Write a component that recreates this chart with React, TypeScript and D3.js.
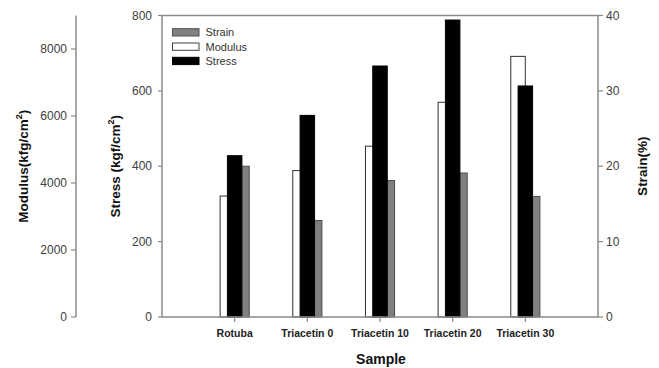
import React from "react";
import * as d3 from "d3";

const samples = ["Rotuba", "Triacetin 0", "Triacetin 10", "Triacetin 20", "Triacetin 30"];
const modulus = [3610, 4370, 5100, 6410, 7780];
const stress = [428, 535, 666, 788, 613];
const strain = [20.0, 12.8, 18.1, 19.1, 16.0];

const modulusTicks = [0, 2000, 4000, 6000, 8000];
const stressTicks = [0, 200, 400, 600, 800];
const strainTicks = [0, 10, 20, 30, 40];

const W = 659;
const H = 368;
const left = 162;
const right = 598;
const top = 15.5;
const bottom = 317;
const modAxisX = 76;

const font = "'Liberation Sans', Arial, sans-serif";
const axisColor = "#8a8a8a";
const labelColor = "#404040";

export default function App() {
  const x = d3.scaleLinear().domain([0, samples.length + 1]).range([left, right]);
  const yMod = d3.scaleLinear().domain([0, 9000]).range([bottom, top]);
  const yStress = d3.scaleLinear().domain([0, 800]).range([bottom, top]);
  const yStrain = d3.scaleLinear().domain([0, 40]).range([bottom, top]);

  const bw = 14.5;
  const off = 7.3;

  const legend = [
    { label: "Strain", fill: "#808080", stroke: "#505050" },
    { label: "Modulus", fill: "#ffffff", stroke: "#404040" },
    { label: "Stress", fill: "#000000", stroke: "#000000" },
  ];

  return (
    <svg width={W} height={H} style={{ position: "absolute", left: 0, top: 0, background: "#fff" }}>
      <rect x={0} y={0} width={W} height={H} fill="#fff" />

      {/* bars: modulus behind, strain, stress on top */}
      {samples.map((s, i) => (
        <g key={s}>
          <rect
            x={x(i + 1) - off - bw / 2}
            y={yMod(modulus[i])}
            width={bw}
            height={bottom - yMod(modulus[i])}
            fill="#fff"
            stroke="#303030"
            strokeWidth={1}
          />
          <rect
            x={x(i + 1) + off - bw / 2}
            y={yStrain(strain[i])}
            width={bw}
            height={bottom - yStrain(strain[i])}
            fill="#808080"
            stroke="#4a4a4a"
            strokeWidth={1}
          />
          <rect
            x={x(i + 1) - bw / 2}
            y={yStress(stress[i])}
            width={bw}
            height={bottom - yStress(stress[i])}
            fill="#000"
            stroke="#000"
            strokeWidth={1}
          />
        </g>
      ))}

      {/* plot frame */}
      <rect x={left} y={top} width={right - left} height={bottom - top} fill="none" stroke={axisColor} strokeWidth={1.5} />

      {/* stress axis (left of frame) */}
      {stressTicks.map((t) => (
        <g key={"s" + t}>
          <line x1={left - 4} x2={left} y1={yStress(t)} y2={yStress(t)} stroke={axisColor} strokeWidth={1.2} />
          <text x={left - 10} y={yStress(t)} dy="0.35em" textAnchor="end" fontFamily={font} fontSize={12} fill={labelColor}>
            {t}
          </text>
        </g>
      ))}

      {/* strain axis (right) */}
      {strainTicks.map((t) => (
        <g key={"r" + t}>
          <line x1={right} x2={right + 5} y1={yStrain(t)} y2={yStrain(t)} stroke={axisColor} strokeWidth={1.2} />
          <text x={right + 8} y={yStrain(t)} dy="0.35em" textAnchor="start" fontFamily={font} fontSize={12} fill={labelColor}>
            {t}
          </text>
        </g>
      ))}

      {/* modulus axis (offset left) */}
      <line x1={modAxisX} x2={modAxisX} y1={top} y2={bottom} stroke={axisColor} strokeWidth={1.5} />
      {modulusTicks.map((t) => (
        <g key={"m" + t}>
          <line x1={modAxisX - 5} x2={modAxisX} y1={yMod(t)} y2={yMod(t)} stroke={axisColor} strokeWidth={1.2} />
          <text x={modAxisX - 9} y={yMod(t)} dy="0.35em" textAnchor="end" fontFamily={font} fontSize={12} fill={labelColor}>
            {t}
          </text>
        </g>
      ))}

      {/* category axis */}
      {samples.map((s, i) => (
        <g key={"c" + s}>
          <line x1={x(i + 1)} x2={x(i + 1)} y1={bottom} y2={bottom + 5} stroke={axisColor} strokeWidth={1.2} />
          <text x={x(i + 1)} y={bottom + 20} textAnchor="middle" fontFamily={font} fontWeight="bold" fontSize={10.5} fill="#222">
            {s}
          </text>
        </g>
      ))}

      {/* axis titles */}
      <text x={(left + right) / 2 + 1} y={364} textAnchor="middle" fontFamily={font} fontWeight="bold" fontSize={14} fill="#111">
        Sample
      </text>
      <text
        transform={`translate(28,${(top + bottom) / 2}) rotate(-90)`}
        textAnchor="middle"
        fontFamily={font}
        fontWeight="bold"
        fontSize={13.5}
        fill="#111"
      >
        Modulus(kfg/cm
        <tspan fontSize={9} dy={-6}>2</tspan>
        <tspan dy={6}>)</tspan>
      </text>
      <text
        transform={`translate(120,${(top + bottom) / 2}) rotate(-90)`}
        textAnchor="middle"
        fontFamily={font}
        fontWeight="bold"
        fontSize={13.5}
        fill="#111"
      >
        Stress (kgf/cm
        <tspan fontSize={9} dy={-6}>2</tspan>
        <tspan dy={6}>)</tspan>
      </text>
      <text
        transform={`translate(647,${(top + bottom) / 2}) rotate(-90)`}
        textAnchor="middle"
        fontFamily={font}
        fontWeight="bold"
        fontSize={13.5}
        fill="#111"
      >
        Strain(%)
      </text>

      {/* legend */}
      {legend.map((l, i) => (
        <g key={"l" + l.label}>
          <rect x={172.5} y={28.7 + i * 14.3} width={26.5} height={7.3} fill={l.fill} stroke={l.stroke} strokeWidth={1} />
          <text x={205.5} y={32.4 + i * 14.3} dy="0.35em" fontFamily={font} fontSize={11} fill="#333">
            {l.label}
          </text>
        </g>
      ))}
    </svg>
  );
}
